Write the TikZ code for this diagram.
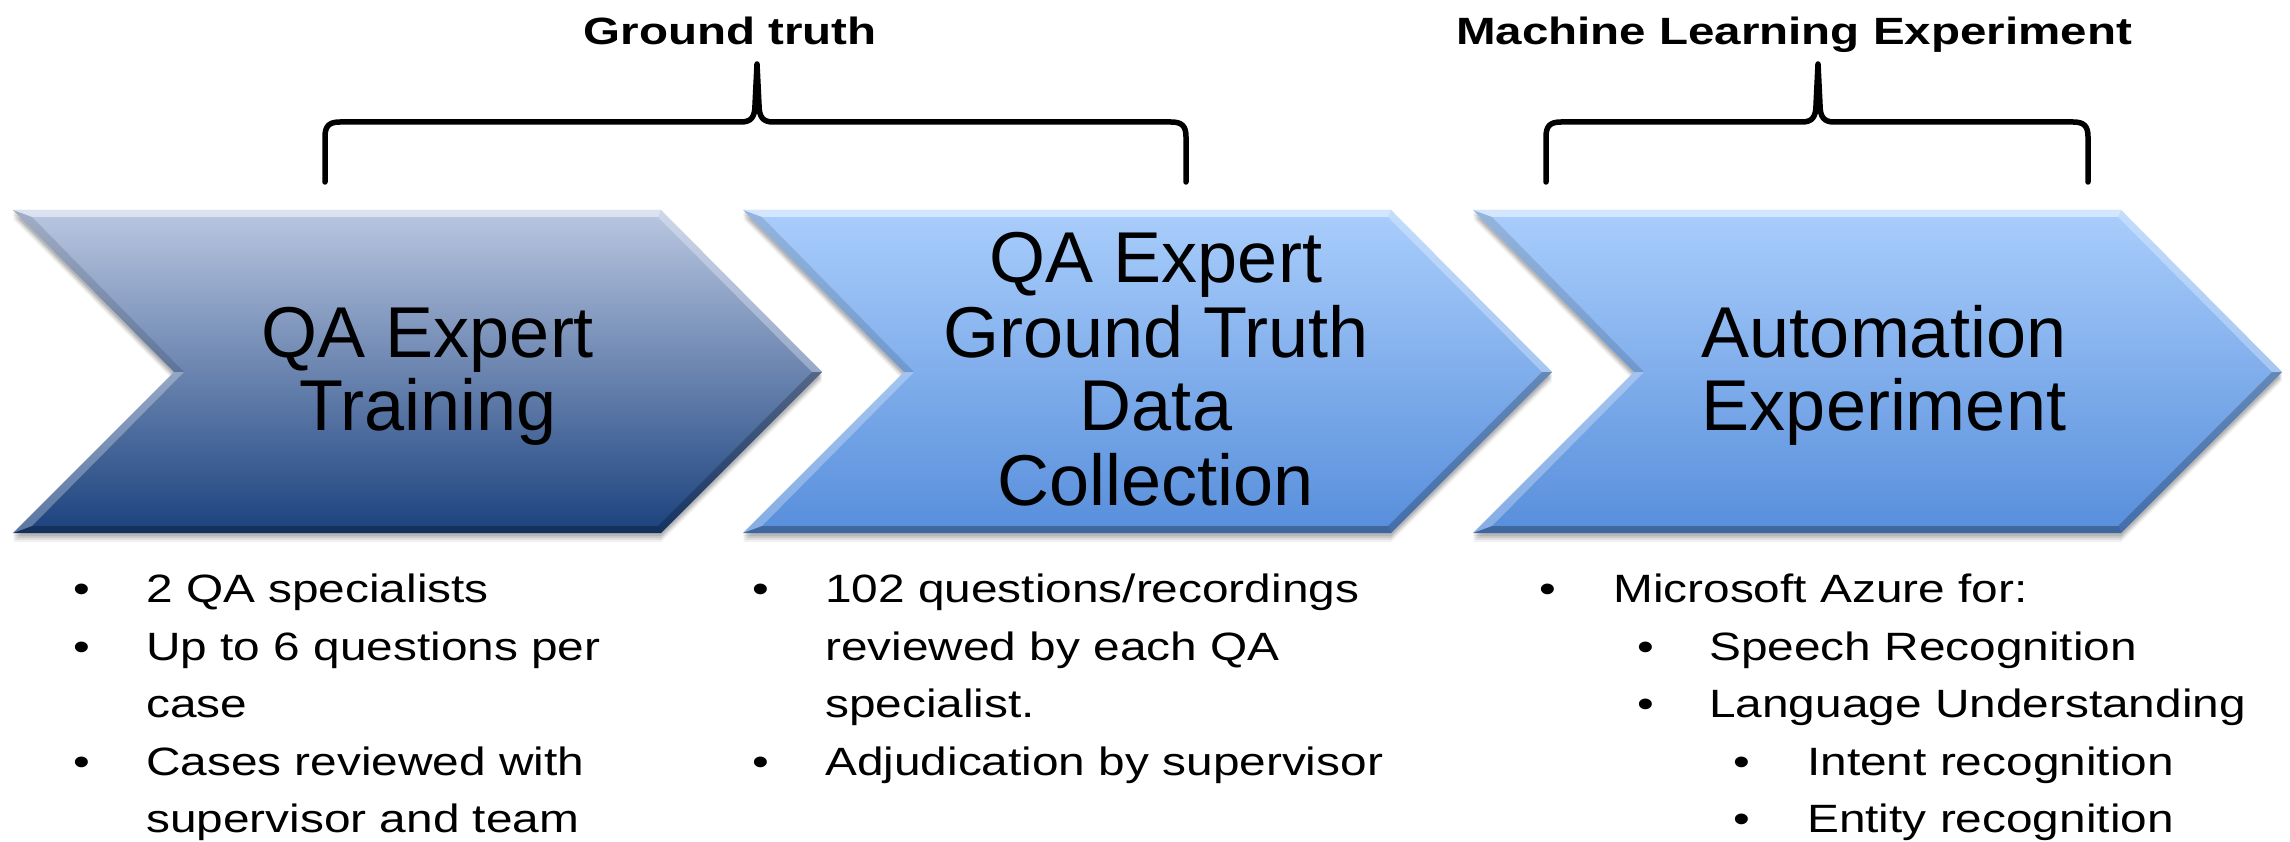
\documentclass[tikz,border=0pt]{standalone}
\usepackage{fontspec}
\setmainfont{Liberation Sans}
\newfontfamily\headfont{Liberation Sans}
\newfontfamily\itemfont[FakeStretch=1.21]{Liberation Sans}
\newfontfamily\groupfont[FakeStretch=1.25]{Liberation Sans}
\usetikzlibrary{calc}

\definecolor{navyTop}{RGB}{186,199,225}
\definecolor{navyMid}{RGB}{126,143,182}
\definecolor{navyBot}{RGB}{27,66,126}
\definecolor{skyTop}{RGB}{170,206,252}
\definecolor{skyMid}{RGB}{132,178,240}
\definecolor{skyBot}{RGB}{87,142,219}

\tikzset{
  headline/.style={font=\headfont\fontsize{72}{74}\selectfont, anchor=base, inner sep=0pt},
  itemline/.style={font=\itemfont\fontsize{39.5}{46}\selectfont, anchor=base west, inner sep=0pt},
  itemdot/.style={font=\itemfont\fontsize{39.5}{46}\selectfont, anchor=base, inner sep=0pt},
  grouplabel/.style={font=\groupfont\bfseries\fontsize{38}{46}\selectfont, anchor=base, inner sep=0pt},
  bracket/.style={line width=5.5pt, line cap=round, line join=round, black},
  bevel light/.style={fill=white, opacity=#1},
  bevel dark/.style={fill=black, opacity=#1},
}

% One bevelled chevron: #1 name, #2 left x, #3/#4/#5 gradient colours
\newcommand\chevron[5]{%
  \foreach \s/\o in {9/0.05,7/0.07,5/0.09,3/0.10}{%
    \fill[black,opacity=\o] (#2,210+\s) -- (#2+648,210+\s) -- (#2+809,372+\s)
      -- (#2+648,533+\s) -- (#2,533+\s) -- (#2+161,372+\s) -- cycle;}
  \coordinate (#1-a) at (#2,210);
  \coordinate (#1-b) at (#2+648,210);
  \coordinate (#1-c) at (#2+809,372);
  \coordinate (#1-d) at (#2+648,533);
  \coordinate (#1-e) at (#2,533);
  \coordinate (#1-f) at (#2+161,372);
  \coordinate (#1-ai) at (#2+19,217);
  \coordinate (#1-bi) at (#2+645,217);
  \coordinate (#1-ci) at (#2+799,372);
  \coordinate (#1-di) at (#2+645,526);
  \coordinate (#1-ei) at (#2+19,526);
  \coordinate (#1-fi) at (#2+171,372);
  \shade[top color=#3, middle color=#4, bottom color=#5]
    (#1-a) -- (#1-b) -- (#1-c) -- (#1-d) -- (#1-e) -- (#1-f) -- cycle;
  \fill[bevel light=.50] (#1-a) -- (#1-b) -- (#1-bi) -- (#1-ai) -- cycle;
  \fill[bevel light=.30] (#1-b) -- (#1-c) -- (#1-ci) -- (#1-bi) -- cycle;
  \fill[bevel dark=.22]  (#1-c) -- (#1-d) -- (#1-di) -- (#1-ci) -- cycle;
  \fill[bevel dark=.28]  (#1-d) -- (#1-e) -- (#1-ei) -- (#1-di) -- cycle;
  \fill[bevel light=.28] (#1-e) -- (#1-f) -- (#1-fi) -- (#1-ei) -- cycle;
  \fill[bevel dark=.12]  (#1-f) -- (#1-a) -- (#1-ai) -- (#1-fi) -- cycle;
}

% Curly bracket over a group: #1 name, #2 left x, #3 tip x, #4 right x
\newcommand\groupbrace[4]{%
  \coordinate (#1-l) at (#2,182);
  \coordinate (#1-t) at (#3,64);
  \coordinate (#1-r) at (#4,182);
  \draw[bracket] (#1-l) -- (#2,137) .. controls (#2,126) and (#2+4,122) .. (#2+15,122)
    -- (#3-16,122) .. controls (#3-6,122) and (#3-2,117) .. (#3-2,105)
    -- (#1-t)
    -- (#3+2,105) .. controls (#3+2,117) and (#3+6,122) .. (#3+16,122)
    -- (#4-15,122) .. controls (#4-4,122) and (#4,126) .. (#4,137) -- (#1-r);
}

\begin{document}
\begin{tikzpicture}[x=1pt,y=-1pt]
\fill[white] (0,0) rectangle (2290,842);
\useasboundingbox (0,0) rectangle (2290,842);

% process chevrons
\chevron{train}{13}{navyTop}{navyMid}{navyBot}
\chevron{collect}{743}{skyTop}{skyMid}{skyBot}
\chevron{auto}{1473}{skyTop}{skyMid}{skyBot}

\node[headline] (train-l1) at (428,357) {QA Expert};
\node[headline] (train-l2) at (428,430) {Training};

\node[headline] (collect-l1) at (1156,282) {QA Expert};
\node[headline] (collect-l2) at (1156,357) {Ground Truth};
\node[headline] (collect-l3) at (1156,430) {Data};
\node[headline] (collect-l4) at (1156,505) {Collection};

\node[headline] (auto-l1) at (1884,357) {Automation};
\node[headline] (auto-l2) at (1884,430) {Experiment};

% group brackets and their labels
\groupbrace{gt}{325}{757}{1186}
\groupbrace{ml}{1546}{1818}{2088}
\node[grouplabel] (gt-label) at (730,45) {Ground truth};
\node[grouplabel] (ml-label) at (1794,45) {Machine Learning Experiment};

% notes under the first step
\node[itemdot]  (n1-d1) at (82,602) {•};
\node[itemline] (n1-t1) at (146,602) {2 QA specialists};
\node[itemdot]  (n1-d2) at (82,660) {•};
\node[itemline] (n1-t2) at (146,660) {Up to 6 questions per};
\node[itemline] (n1-t3) at (146,717) {case};
\node[itemdot]  (n1-d4) at (82,775) {•};
\node[itemline] (n1-t4) at (146,775) {Cases reviewed with};
\node[itemline] (n1-t5) at (146,832) {supervisor and team};

% notes under the second step
\node[itemdot]  (n2-d1) at (761,602) {•};
\node[itemline] (n2-t1) at (825,602) {102 questions/recordings};
\node[itemline] (n2-t2) at (825,660) {reviewed by each QA};
\node[itemline] (n2-t3) at (825,717) {specialist.};
\node[itemdot]  (n2-d4) at (761,775) {•};
\node[itemline] (n2-t4) at (825,775) {Adjudication by supervisor};

% notes under the third step
\node[itemdot]  (n3-d1) at (1548,602) {•};
\node[itemline] (n3-t1) at (1613,602) {Microsoft Azure for:};
\node[itemdot]  (n3-d2) at (1646,660) {•};
\node[itemline] (n3-t2) at (1709,660) {Speech Recognition};
\node[itemdot]  (n3-d3) at (1646,717) {•};
\node[itemline] (n3-t3) at (1709,717) {Language Understanding};
\node[itemdot]  (n3-d4) at (1742,775) {•};
\node[itemline] (n3-t4) at (1807,775) {Intent recognition};
\node[itemdot]  (n3-d5) at (1742,832) {•};
\node[itemline] (n3-t5) at (1807,832) {Entity recognition};
\end{tikzpicture}
\end{document}
